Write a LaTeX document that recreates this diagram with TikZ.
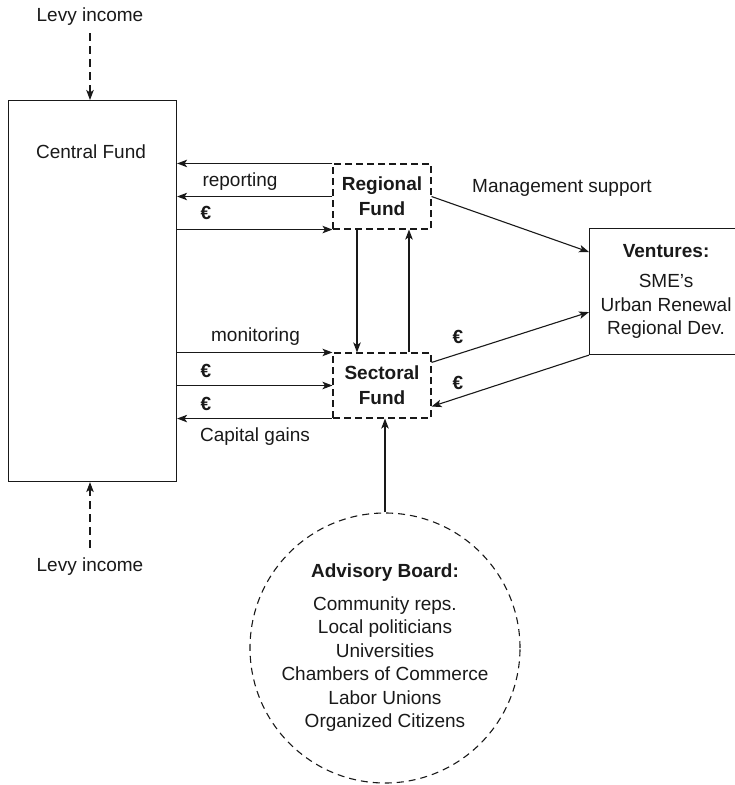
\documentclass[tikz,border=0pt]{standalone}
\usepackage{fontspec}
\setmainfont{Liberation Sans}
\usetikzlibrary{arrows.meta}
\begin{document}
\begin{tikzpicture}[x=1pt,y=-1pt,
  every node/.style={font=\fontsize{19}{23.5}\selectfont, text=black!90},
  ln/.style={line width=1.1pt, draw=black!90},
  arr/.style={ln, -{Stealth[length=10pt,width=7.5pt,inset=2.5pt]}},
  darr/.style={arr, dash pattern=on 8pt off 5pt},
  txt/.style={inner sep=0pt},
  eur/.style={inner sep=0pt, font=\fontsize{19}{23.5}\selectfont\bfseries},
  fundbox/.style={ln, dash pattern=on 7pt off 4pt, minimum width=98pt, minimum height=65pt, inner sep=0pt, align=center, font=\fontsize{19}{25}\selectfont\bfseries},
]
\useasboundingbox (0,0) rectangle (735,785);
\clip (0,0) rectangle (735,785);

% main boxes
\node[ln, minimum width=168pt, minimum height=381pt, anchor=north west, inner sep=0pt] (cf) at (8,100) {};
\node[txt] (cft) at (91,152) {Central Fund};
\node[txt] (levy1) at (90,17) {Levy income};
\node[txt] (levy2) at (90,567) {Levy income};
\node[fundbox] (rf) at (382,196.5) {Regional\\Fund};
\node[fundbox] (sf) at (382,385.5) {Sectoral\\Fund};
\node[ln, minimum width=153pt, minimum height=126pt, anchor=north west, inner sep=0pt, align=center] (ven) at (589,228) {\textbf{Ventures:}\\[6.5pt]SME’s\\Urban Renewal\\Regional Dev.};
\node[ln, circle, dash pattern=on 7pt off 5pt, minimum size=270pt, inner sep=0pt, align=center] (adv) at (385,648) {\textbf{Advisory Board:}\\[9pt]Community reps.\\Local politicians\\Universities\\Chambers of Commerce\\Labor Unions\\Organized Citizens};

% labels
\node[txt] (lrep) at (240,182) {reporting};
\node[eur] (le1) at (206,213) {€};
\node[txt] (lmon) at (255.5,337) {monitoring};
\node[eur] (le2) at (206,371) {€};
\node[eur] (le3) at (206,404) {€};
\node[txt] (lcap) at (255,437) {Capital gains};
\node[txt] (lman) at (562,188) {Management support};
\node[eur] (le4) at (458,337) {€};
\node[eur] (le5) at (458,383) {€};

% connectors
\draw[arr] (rf.north west) -- (cf.east |- rf.north west);
\draw[arr] (rf.west) -- (cf.east |- rf.west);
\draw[arr] (cf.east |- rf.south west) -- (rf.south west);
\draw[arr] ([xshift=-25pt]rf.south) -- ([xshift=-25pt]sf.north);
\draw[arr] ([xshift=27pt]sf.north) -- ([xshift=27pt]rf.south);
\draw[arr] (cf.east |- sf.north west) -- (sf.north west);
\draw[arr] (cf.east |- sf.west) -- (sf.west);
\draw[arr] (sf.south west) -- (cf.east |- sf.south west);
\draw[arr] (rf.east) -- ([yshift=-24pt]ven.north west);
\draw[arr] ([yshift=-10pt]sf.north east) -- ([yshift=43pt]ven.south west);
\draw[arr] (ven.south west) -- ([yshift=12pt]sf.south east);
\draw[arr] (adv.north) -- (adv.north |- sf.south);
\draw[darr] ([yshift=-7pt]levy1.south) -- (levy1.south |- cf.north);
\draw[darr] ([yshift=10pt]levy2.north) -- (levy2.north |- cf.south);
\end{tikzpicture}
\end{document}
